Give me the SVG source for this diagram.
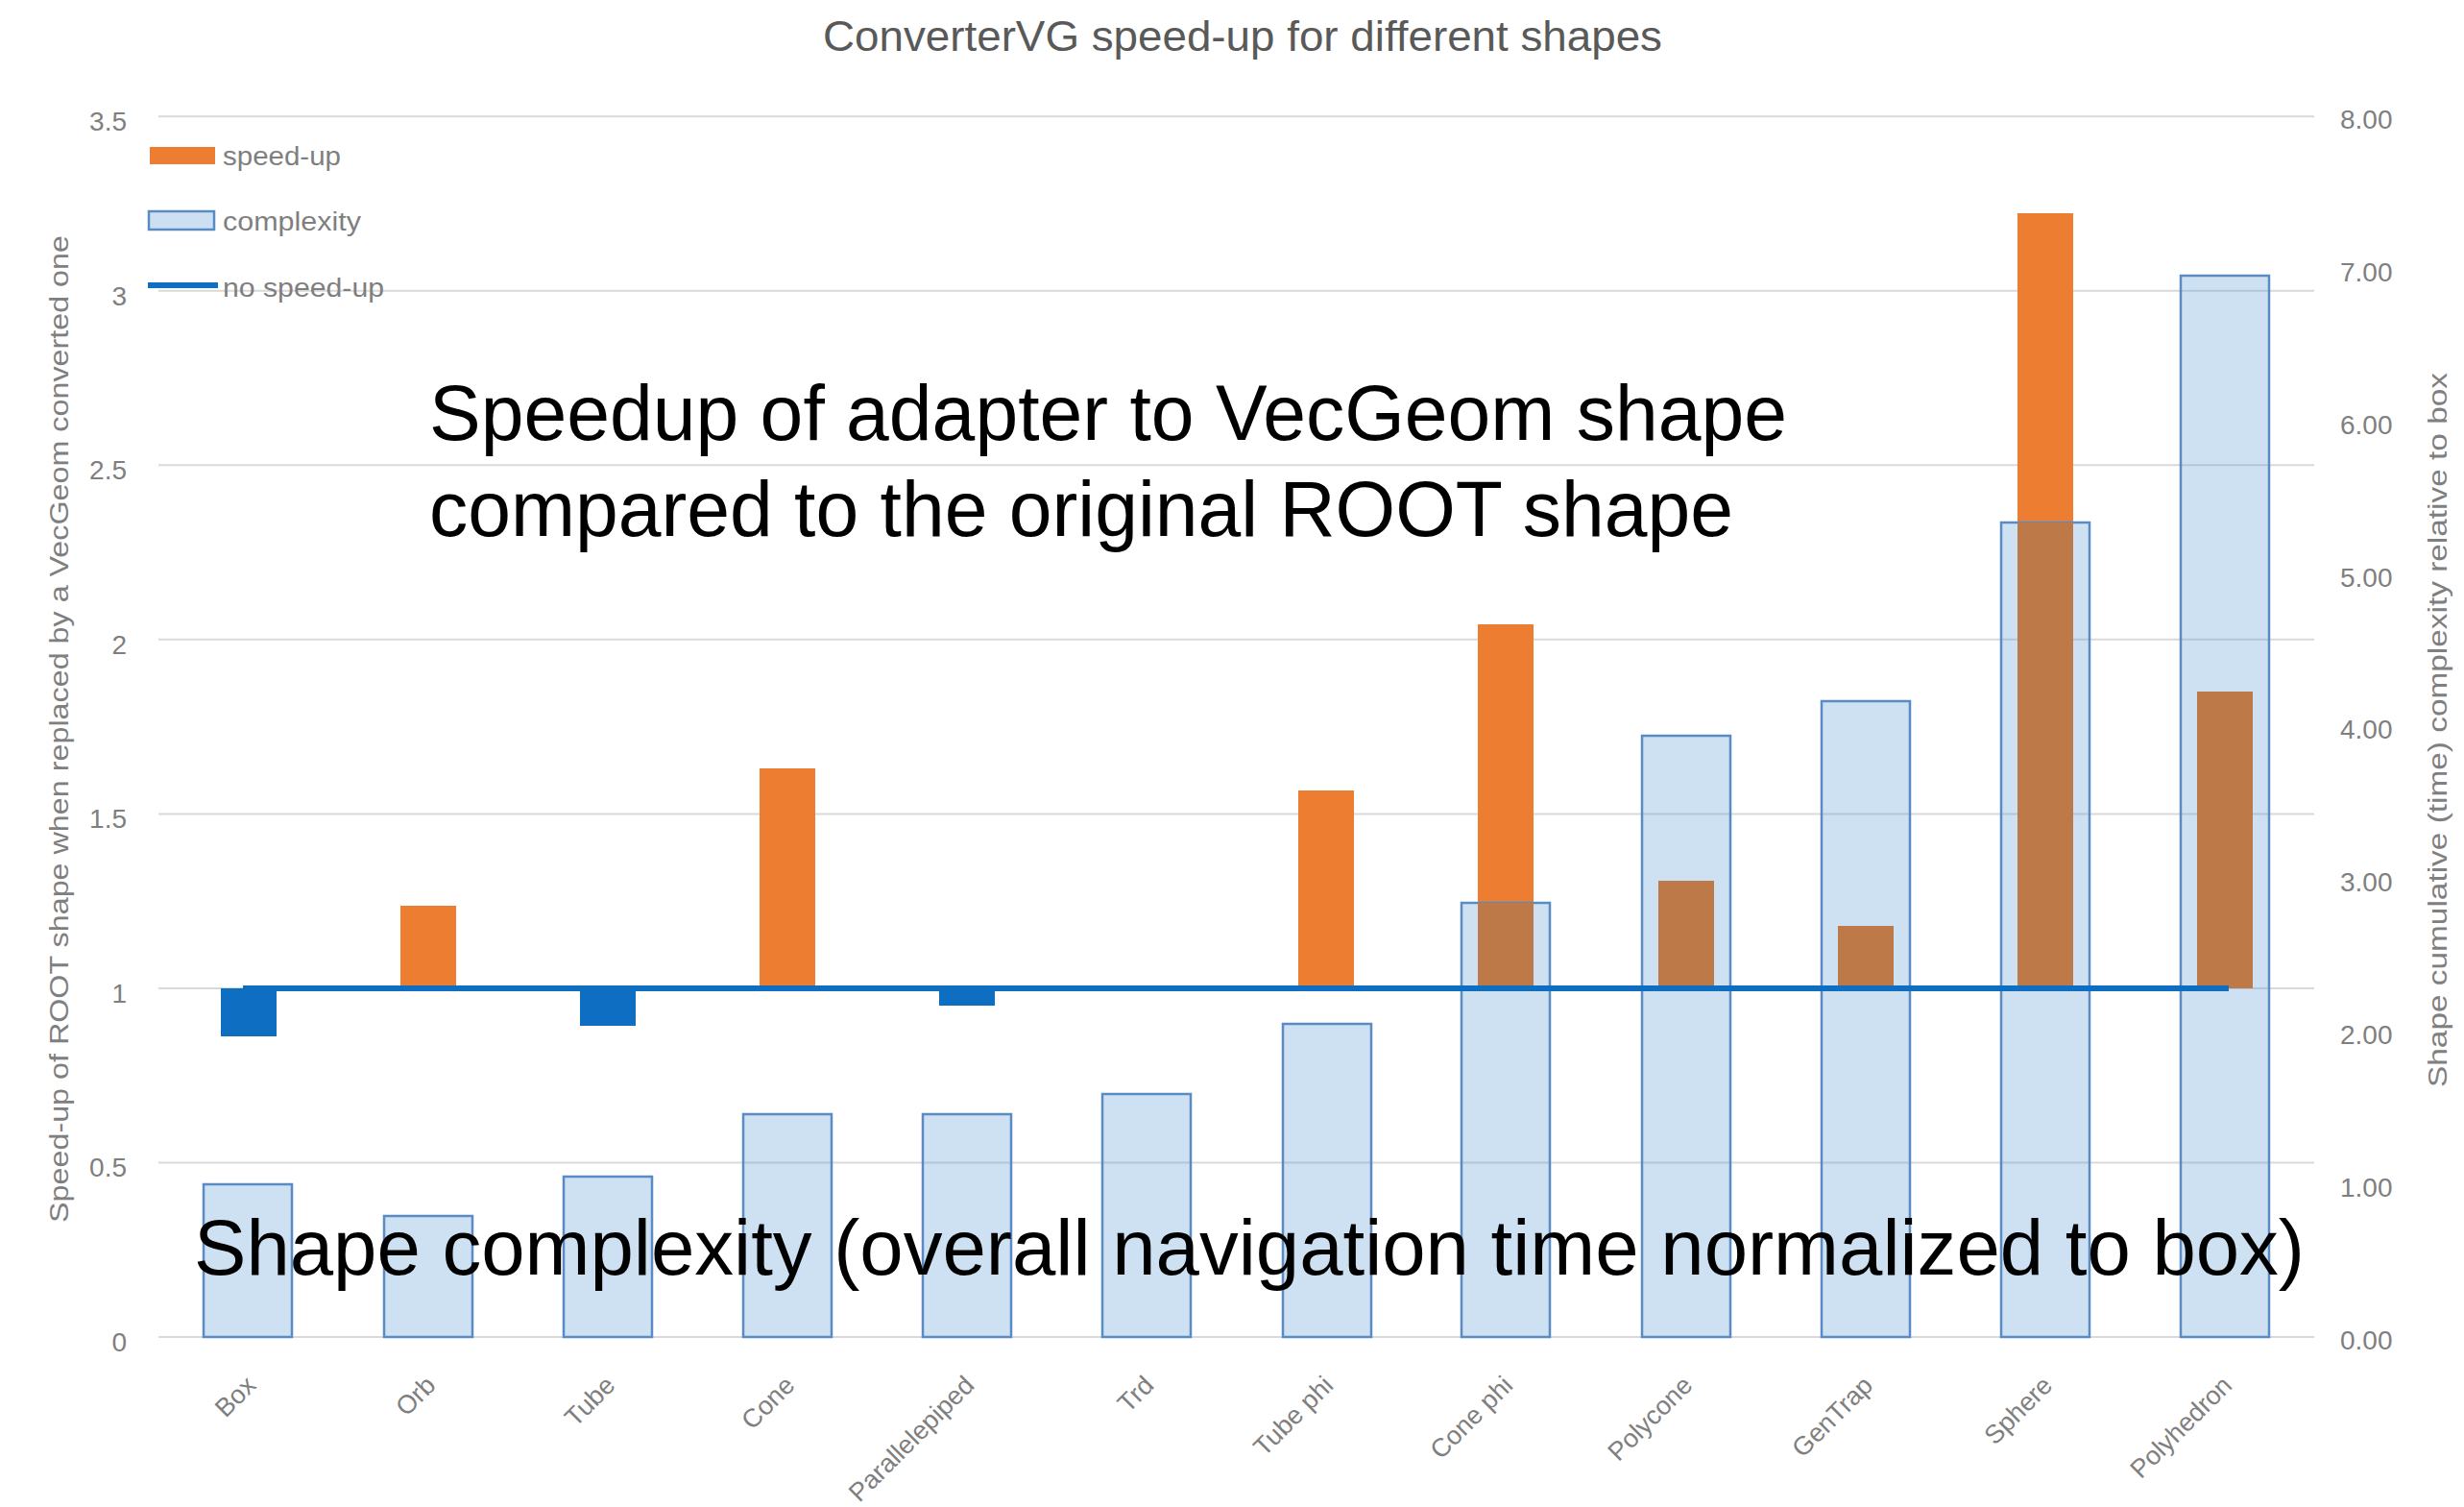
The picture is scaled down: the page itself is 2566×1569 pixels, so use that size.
<svg xmlns="http://www.w3.org/2000/svg" width="2566" height="1569" viewBox="0 0 2566 1569">
<style>
  .grid { stroke: #D9D9D9; stroke-width: 2; }
  .cx { fill: rgb(91,155,213); fill-opacity: 0.3; stroke: #5B8BC4; stroke-width: 2.5; }
  .or { fill: #ED7D31; }
  .br { fill: #BD7A48; }
  .bl { fill: #0E6EC2; }
  .tick { font-family: "Liberation Sans", Arial, sans-serif; font-size: 28px; fill: #7F7F7F; }
  .cat { font-family: "Liberation Sans", Arial, sans-serif; font-size: 27px; fill: #7F7F7F; text-anchor: end; }
  .leg { font-family: "Liberation Sans", Arial, sans-serif; font-size: 27px; fill: #7F7F7F; }
  .axt { font-family: "Liberation Sans", Arial, sans-serif; font-size: 27px; fill: #7F7F7F; text-anchor: middle; }
  .big { font-family: "Liberation Sans", Arial, sans-serif; font-size: 81px; fill: #000000; }
</style>
<rect x="0" y="0" width="2566" height="1569" fill="#FFFFFF"/>

<g id="title">
  <text x="1294" y="53" text-anchor="middle" font-family="Liberation Sans, Arial, sans-serif" font-size="44" fill="#595959" textLength="874" lengthAdjust="spacingAndGlyphs">ConverterVG speed-up for different shapes</text>
</g>

<g id="gridlines">
  <line class="grid" x1="165" y1="1392" x2="2410" y2="1392"/>
  <line class="grid" x1="165" y1="1210.5" x2="2410" y2="1210.5"/>
  <line class="grid" x1="165" y1="1029" x2="2410" y2="1029"/>
  <line class="grid" x1="165" y1="847.4" x2="2410" y2="847.4"/>
  <line class="grid" x1="165" y1="665.8" x2="2410" y2="665.8"/>
  <line class="grid" x1="165" y1="484.3" x2="2410" y2="484.3"/>
  <line class="grid" x1="165" y1="302.7" x2="2410" y2="302.7"/>
  <line class="grid" x1="165" y1="121.2" x2="2410" y2="121.2"/>
</g>

<g id="left-axis">
  <text class="tick" x="132" y="1407" text-anchor="end">0</text>
  <text class="tick" x="132" y="1225" text-anchor="end">0.5</text>
  <text class="tick" x="132" y="1044" text-anchor="end">1</text>
  <text class="tick" x="132" y="862" text-anchor="end">1.5</text>
  <text class="tick" x="132" y="681" text-anchor="end">2</text>
  <text class="tick" x="132" y="499" text-anchor="end">2.5</text>
  <text class="tick" x="132" y="318" text-anchor="end">3</text>
  <text class="tick" x="132" y="136" text-anchor="end">3.5</text>
  <text class="axt" transform="translate(71,759) rotate(-90)" textLength="1028" lengthAdjust="spacingAndGlyphs">Speed-up of ROOT shape when replaced by a VecGeom converted one</text>
</g>

<g id="right-axis">
  <text class="tick" x="2437" y="1405">0.00</text>
  <text class="tick" x="2437" y="1246">1.00</text>
  <text class="tick" x="2437" y="1087">2.00</text>
  <text class="tick" x="2437" y="928">3.00</text>
  <text class="tick" x="2437" y="769">4.00</text>
  <text class="tick" x="2437" y="611">5.00</text>
  <text class="tick" x="2437" y="452">6.00</text>
  <text class="tick" x="2437" y="293">7.00</text>
  <text class="tick" x="2437" y="134">8.00</text>
  <text class="axt" transform="translate(2548,760) rotate(-90)" textLength="744" lengthAdjust="spacingAndGlyphs">Shape cumulative (time) complexity relative to box</text>
</g>

<g id="speedup-bars">
  <rect class="bl" x="230" y="1029" width="58" height="50"/>
  <rect class="or" x="417" y="943" width="58" height="86"/>
  <rect class="bl" x="604" y="1029" width="58" height="39"/>
  <rect class="or" x="791" y="800" width="58" height="229"/>
  <rect class="bl" x="978" y="1029" width="58" height="18"/>
  <rect class="or" x="1352" y="823" width="58" height="206"/>
  <rect class="or" x="1539" y="650" width="58" height="290"/>
  <rect class="or" x="2101" y="222" width="58" height="322"/>
</g>

<g id="complexity-bars">
  <rect class="cx" x="212" y="1233" width="92" height="159"/>
  <rect class="cx" x="400" y="1266" width="92" height="126"/>
  <rect class="cx" x="587" y="1225" width="92" height="167"/>
  <rect class="cx" x="774" y="1160" width="92" height="232"/>
  <rect class="cx" x="961" y="1160" width="92" height="232"/>
  <rect class="cx" x="1148" y="1139" width="92" height="253"/>
  <rect class="cx" x="1336" y="1066" width="92" height="326"/>
  <rect class="cx" x="1522" y="940" width="92" height="452"/>
  <rect class="cx" x="1710" y="766" width="92" height="626"/>
  <rect class="cx" x="1897" y="730" width="92" height="662"/>
  <rect class="cx" x="2084" y="544" width="92" height="848"/>
  <rect class="cx" x="2271" y="287" width="92" height="1105"/>
</g>

<g id="speedup-overlap">
  <rect class="br" x="1539" y="940" width="58" height="89"/>
  <rect class="br" x="1727" y="917" width="58" height="112"/>
  <rect class="br" x="1914" y="964" width="58" height="65"/>
  <rect class="br" x="2101" y="544" width="58" height="485"/>
  <rect class="br" x="2288" y="720" width="58" height="309"/>
</g>

<g id="connectors">
  <line id="no-speedup-line" x1="253" y1="1029" x2="2321" y2="1029" stroke="#0E6EC2" stroke-width="6"/>
</g>

<g id="categories">
  <text class="cat" transform="translate(268,1444) rotate(-45)">Box</text>
  <text class="cat" transform="translate(455,1444) rotate(-45)">Orb</text>
  <text class="cat" transform="translate(642,1444) rotate(-45)">Tube</text>
  <text class="cat" transform="translate(829,1444) rotate(-45)">Cone</text>
  <text class="cat" transform="translate(1016,1444) rotate(-45)">Parallelepiped</text>
  <text class="cat" transform="translate(1203,1444) rotate(-45)">Trd</text>
  <text class="cat" transform="translate(1390,1444) rotate(-45)">Tube phi</text>
  <text class="cat" transform="translate(1577,1444) rotate(-45)">Cone phi</text>
  <text class="cat" transform="translate(1764,1444) rotate(-45)">Polycone</text>
  <text class="cat" transform="translate(1952,1444) rotate(-45)">GenTrap</text>
  <text class="cat" transform="translate(2139,1444) rotate(-45)">Sphere</text>
  <text class="cat" transform="translate(2326,1444) rotate(-45)">Polyhedron</text>
</g>

<g id="legend">
  <rect x="156" y="153" width="68" height="18" fill="#ED7D31"/>
  <text class="leg" x="232" y="172" textLength="123" lengthAdjust="spacingAndGlyphs">speed-up</text>
  <rect x="155" y="220" width="68" height="19" fill="#CDE0F2" stroke="#5B8BC4" stroke-width="2.5"/>
  <text class="leg" x="232" y="240" textLength="144" lengthAdjust="spacingAndGlyphs">complexity</text>
  <line x1="154" y1="297" x2="227" y2="297" stroke="#0E6EC2" stroke-width="6"/>
  <text class="leg" x="232" y="309" textLength="168" lengthAdjust="spacingAndGlyphs">no speed-up</text>
</g>

<g id="annotations">
  <text class="big" x="447" y="458" textLength="1414" lengthAdjust="spacingAndGlyphs">Speedup of adapter to VecGeom shape</text>
  <text class="big" x="447" y="558" textLength="1358" lengthAdjust="spacingAndGlyphs">compared to the original ROOT shape</text>
  <text class="big" x="202" y="1327" textLength="2198" lengthAdjust="spacingAndGlyphs">Shape complexity (overall navigation time normalized to box)</text>
</g>
</svg>
